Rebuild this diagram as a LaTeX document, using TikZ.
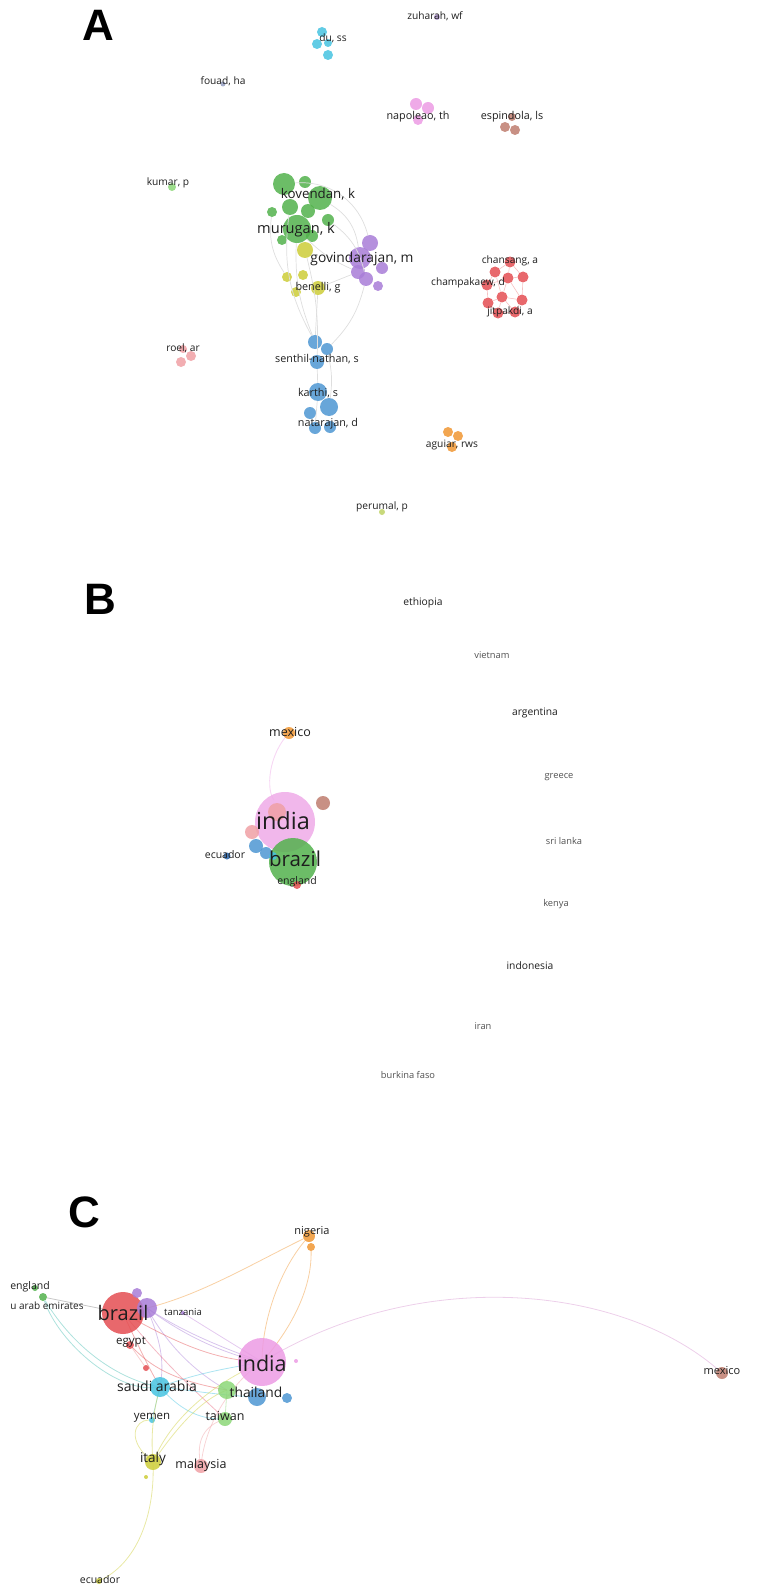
\documentclass[tikz,border=0pt]{standalone}
\usepackage{fontspec}
\setmainfont{Open Sans}
\newfontfamily\letterfont{Liberation Sans}
\definecolor{cred}{RGB}{228,78,82}
\definecolor{cgreen}{RGB}{82,178,76}
\definecolor{cblue}{RGB}{78,150,210}
\definecolor{cyellow}{RGB}{205,205,55}
\definecolor{cpurple}{RGB}{168,125,215}
\definecolor{ccyan}{RGB}{70,195,225}
\definecolor{corange}{RGB}{240,150,50}
\definecolor{cbrown}{RGB}{190,125,110}
\definecolor{cpink}{RGB}{236,155,228}
\definecolor{clpink}{RGB}{240,160,165}
\definecolor{clgreen}{RGB}{140,215,120}
\definecolor{cdblue}{RGB}{40,100,170}
\definecolor{cgrayblue}{RGB}{150,160,195}
\definecolor{cgrayvio}{RGB}{175,150,205}
\definecolor{colive}{RGB}{190,210,100}
\definecolor{txt}{RGB}{30,30,30}
\definecolor{txtl}{RGB}{80,80,80}
\definecolor{edgec}{RGB}{222,222,222}
\newcommand\fsz[1]{\fontsize{#1}{#1}\selectfont}
\newcommand\bubble[5]{\node[bub, fill=#2, minimum size=#5*2pt] (#1) at (#3,#4) {};}
\tikzset{
  bub/.style={circle, inner sep=0pt, draw=none, fill opacity=0.85},
  lbl/.style={inner sep=0pt, text=txt},
  lbll/.style={inner sep=0pt, text=txtl},
  letter/.style={inner sep=0pt, font=\letterfont\bfseries\fsz{44}, text=black},
  aedge/.style={draw=edgec, line width=0.7pt},
  redge/.style={draw=cred!35, line width=0.6pt},
  cedge/.style={line width=0.8pt, draw opacity=0.45},
}
\begin{document}
\begin{tikzpicture}[x=1pt, y=-1pt]
\useasboundingbox (0,0) rectangle (781,1586);
% ================= Panel A =================
\node[letter] (LA) at (98,25) {A};
\bubble{du1}{ccyan}{322}{32}{5}
\bubble{du2}{ccyan}{317}{44}{5}
\bubble{du3}{ccyan}{328}{43}{4}
\bubble{du4}{ccyan}{328}{55}{5}
\bubble{np1}{cpink}{416}{104}{6}
\bubble{np2}{cpink}{428}{108}{6}
\bubble{np3}{cpink}{418}{120}{5}
\bubble{es1}{cbrown}{512}{117}{4}
\bubble{es2}{cbrown}{505}{127}{5}
\bubble{es3}{cbrown}{515}{130}{5}
\bubble{fo}{cgrayblue}{223}{84}{2.5}
\bubble{zu}{cgrayvio}{437}{17}{3}
\bubble{ku}{clgreen}{172}{187}{4}
\bubble{pe}{colive}{382}{512}{3}
\bubble{g1}{cgreen}{284}{184}{11}
\bubble{g2}{cgreen}{305}{182}{6}
\bubble{g3}{cgreen}{320}{198}{12}
\bubble{g4}{cgreen}{290}{207}{8}
\bubble{g5}{cgreen}{308}{211}{7}
\bubble{g6}{cgreen}{272}{212}{5}
\bubble{g7}{cgreen}{328}{220}{6}
\bubble{g8}{cgreen}{297}{229}{14}
\bubble{g9}{cgreen}{282}{240}{5}
\bubble{g10}{cgreen}{312}{236}{6}
\bubble{y1}{cyellow}{305}{250}{8}
\bubble{y2}{cyellow}{287}{277}{5}
\bubble{y3}{cyellow}{303}{275}{5}
\bubble{y4}{cyellow}{318}{288}{7}
\bubble{y5}{cyellow}{296}{292}{5}
\bubble{p1}{cpurple}{370}{243}{8}
\bubble{p2}{cpurple}{360}{258}{11}
\bubble{p6}{cpurple}{358}{272}{7}
\bubble{p3}{cpurple}{366}{279}{7}
\bubble{p4}{cpurple}{382}{268}{6}
\bubble{p5}{cpurple}{378}{286}{5}
\bubble{r1}{cred}{510}{262}{5.5}
\bubble{r2}{cred}{495}{272}{5.5}
\bubble{r3}{cred}{508}{278}{5.5}
\bubble{r4}{cred}{523}{277}{5.5}
\bubble{r5}{cred}{487}{285}{5.5}
\bubble{r6}{cred}{502}{297}{5.5}
\bubble{r7}{cred}{522}{300}{5.5}
\bubble{r8}{cred}{488}{303}{5.5}
\bubble{r9}{cred}{498}{313}{5.5}
\bubble{r10}{cred}{515}{312}{5.5}
\bubble{rl1}{clpink}{183}{349}{4}
\bubble{rl2}{clpink}{191}{356}{5}
\bubble{rl3}{clpink}{181}{362}{5}
\bubble{b1}{cblue}{315}{342}{7}
\bubble{b2}{cblue}{327}{349}{6}
\bubble{b3}{cblue}{317}{362}{7}
\bubble{b4}{cblue}{318}{392}{9}
\bubble{b5}{cblue}{329}{407}{9}
\bubble{b6}{cblue}{310}{413}{6}
\bubble{b7}{cblue}{315}{428}{6}
\bubble{b8}{cblue}{330}{427}{6}
\bubble{o1}{corange}{448}{432}{5}
\bubble{o2}{corange}{458}{436}{5}
\bubble{o3}{corange}{452}{447}{5}
\draw[aedge] (g3) to[bend left=25] (p2);
\draw[aedge] (g1) to[bend left=40] (p1);
\draw[aedge] (g8) to[bend right=10] (p6);
\draw[aedge] (g8) to[bend right=12] (b1);
\draw[aedge] (g4) to[bend right=18] (b1);
\draw[aedge] (y4) to (b1);
\draw[aedge] (y1) to[bend left=8] (b3);
\draw[aedge] (p3) to[bend left=15] (b2);
\draw[aedge] (g6) to[bend right=20] (y2);
\draw[aedge] (g7) to[bend left=20] (p3);
\draw[aedge] (y4) to (p6);
\draw[aedge] (b3) to (b4);
\draw[aedge] (b2) to[bend left=10] (b5);
\draw[aedge] (b4) to (b7);
\draw[redge] (r1) -- (r3) -- (r5) -- (r2) -- (r1) -- (r4) -- (r3) -- (r6) -- (r8) -- (r9) -- (r10) -- (r7) -- (r4);
\draw[redge] (r2) -- (r6) -- (r10);
\draw[redge] (r3) -- (r7) -- (r6) -- (r9);
\draw[redge] (r5) -- (r8);
% labels
\node[lbl, font=\fsz{10.2}] (Lzu) at (435,16) {zuharah, wf};
\node[lbl, font=\fsz{10.2}] (Ldu) at (333,38) {du, ss};
\node[lbl, font=\fsz{10.2}] (Lfo) at (223,81) {fouad, ha};
\node[lbl, font=\fsz{10.8}] (Lnp) at (418,117) {napoleao, th};
\node[lbl, font=\fsz{10.8}] (Les) at (512,117) {espindola, ls};
\node[lbl, font=\fsz{10.2}] (Lku) at (168,183) {kumar, p};
\node[lbl, font=\fsz{13.3}] (Lkov) at (318,194) {kovendan, k};
\node[lbl, font=\fsz{14.6}] (Lmur) at (296,230) {murugan, k};
\node[lbl, font=\fsz{13.8}] (Lgov) at (362,259) {govindarajan, m};
\node[lbl, font=\fsz{10.8}] (Lben) at (318,288) {benelli, g};
\node[lbl, font=\fsz{10.2}] (Lcha) at (510,261) {chansang, a};
\node[lbl, font=\fsz{10.2}] (Lchp) at (468,283) {champakaew, d};
\node[lbl, font=\fsz{10.2}] (Ljit) at (510,312) {jitpakdi, a};
\node[lbl, font=\fsz{10.2}] (Lroe) at (183,348) {roel, ar};
\node[lbl, font=\fsz{10.8}] (Lsen) at (317,359) {senthil-nathan, s};
\node[lbl, font=\fsz{10.8}] (Lkar) at (318,393) {karthi, s};
\node[lbl, font=\fsz{10.8}] (Lnat) at (328,424) {natarajan, d};
\node[lbl, font=\fsz{10.2}] (Lagu) at (452,445) {aguiar, rws};
\node[lbl, font=\fsz{10.2}] (Lper) at (382,507) {perumal, p};
% ================= Panel B =================
\node[letter] (LB) at (100,599) {B};
\draw[draw=cpink!40, line width=0.9pt] (289,733) .. controls (268,755) and (266,790) .. (274,800);
\bubble{Bmx}{corange}{289}{733}{6}
\bubble{Bind}{cpink!85!white}{285}{822}{30}
\bubble{Bs1}{clpink}{277}{812}{9}
\bubble{Bs2}{clpink}{252}{832}{7}
\bubble{Bbro}{cbrown}{323}{803}{7}
\bubble{Bbrz}{cgreen}{293}{862}{24}
\bubble{Bbl1}{cblue}{256}{846}{7}
\bubble{Bbl2}{cblue}{266}{853}{6}
\bubble{Btl}{ccyan}{273}{856}{4}
\bubble{Bec}{cdblue}{227}{856}{3.5}
\bubble{Ben}{cred}{297}{885}{4}
\node[lbl, font=\fsz{12.5}] (LBmx) at (290,732) {mexico};
\node[lbl, font=\fsz{23.5}] (LBind) at (283,821) {india};
\node[lbl, font=\fsz{20.5}] (LBbrz) at (295,859) {brazil};
\node[lbl, font=\fsz{10.5}] (LBec) at (225,855) {ecuador};
\node[lbl, font=\fsz{10.5}] (LBen) at (297,882) {england};
\node[lbl, font=\fsz{10.3}] (LBet) at (423,603) {ethiopia};
\node[lbll, font=\fsz{9.3}] (LBvi) at (492,655) {vietnam};
\node[lbl, font=\fsz{10.3}] (LBar) at (535,713) {argentina};
\node[lbll, font=\fsz{9.3}] (LBgr) at (559,777) {greece};
\node[lbll, font=\fsz{9.3}] (LBsl) at (564,841) {sri lanka};
\node[lbll, font=\fsz{9.3}] (LBke) at (556,904) {kenya};
\node[lbl, font=\fsz{10.3}] (LBid) at (530,966) {indonesia};
\node[lbll, font=\fsz{9.3}] (LBir) at (483,1026) {iran};
\node[lbll, font=\fsz{9.3}] (LBbf) at (408,1075) {burkina faso};
% ================= Panel C =================
\node[letter] (LC) at (84,1212) {C};
\bubble{Cng1}{corange}{309}{1236}{6}
\bubble{Cng2}{corange}{311}{1247}{4}
\bubble{Cen1}{cgreen}{35}{1288}{3}
\bubble{Cen2}{cgreen}{43}{1297}{4}
\bubble{Ctz}{cpurple}{183}{1313}{2}
\bubble{Ceg}{cred}{130}{1345}{4}
\bubble{Crs}{cred}{146}{1368}{3}
\bubble{Cpd}{cpink}{296}{1361}{2}
\bubble{Cmx}{cbrown}{722}{1373}{6}
\bubble{Cye}{ccyan}{152}{1420}{3}
\bubble{Cid}{cyellow}{146}{1477}{2}
\bubble{Cec}{cyellow}{99}{1581}{3}
\coordinate (Cbrzc) at (123,1313);
\coordinate (Cindc) at (262,1362);
\coordinate (Csac) at (160,1387);
\coordinate (Cth1c) at (227,1390);
\coordinate (Cth2c) at (257,1397);
\coordinate (Ctwc) at (225,1419);
\coordinate (Citc) at (153,1462);
\coordinate (Cmlc) at (201,1466);
\coordinate (Cpu2c) at (147,1308);
% edges
\draw[cedge, draw=ccyan!70!cgreen] (Cen2) .. controls (75,1350) and (120,1380) .. (Csac);
\draw[cedge, draw=ccyan!70!cgreen] (Cen2) .. controls (60,1345) and (120,1395) .. (Csac);
\draw[cedge, draw=gray] (Cen2) -- (Cbrzc);
\draw[cedge, draw=corange] (Cng1) .. controls (250,1265) and (200,1295) .. (Cpu2c);
\draw[cedge, draw=corange] (Cng1) .. controls (280,1270) and (262,1320) .. (Cindc);
\draw[cedge, draw=corange] (Cng2) .. controls (312,1290) and (290,1330) .. (Cindc);
\draw[cedge, draw=cpink!80!gray] (Cindc) .. controls (420,1265) and (620,1285) .. (Cmx);
\draw[cedge, draw=cpurple] (Cpu2c) .. controls (190,1340) and (230,1355) .. (Cindc);
\draw[cedge, draw=cpurple] (Cpu2c) .. controls (180,1330) and (215,1345) .. (Cindc);
\draw[cedge, draw=cpurple] (Cpu2c) .. controls (170,1350) and (200,1375) .. (Cth1c);
\draw[cedge, draw=cpurple] (Cpu2c) .. controls (160,1340) and (165,1360) .. (Csac);
\draw[cedge, draw=cpurple!60!cpink] (Ctz) .. controls (210,1330) and (235,1345) .. (Cindc);
\draw[cedge, draw=cred] (Cbrzc) .. controls (140,1350) and (150,1370) .. (Csac);
\draw[cedge, draw=cred] (Cbrzc) .. controls (180,1345) and (215,1360) .. (Cindc);
\draw[cedge, draw=cred] (Ceg) .. controls (150,1365) and (170,1380) .. (Cth1c);
\draw[cedge, draw=cred!70!cpink] (Cbrzc) .. controls (170,1370) and (200,1395) .. (Ctwc);
\draw[cedge, draw=ccyan] (Csac) .. controls (200,1372) and (230,1368) .. (Cindc);
\draw[cedge, draw=ccyan] (Csac) .. controls (190,1390) and (215,1395) .. (Cth2c);
\draw[cedge, draw=ccyan] (Csac) .. controls (180,1410) and (200,1420) .. (Ctwc);
\draw[cedge, draw=ccyan] (Cye) -- (Csac);
\draw[cedge, draw=cyellow] (Citc) .. controls (170,1420) and (210,1385) .. (Cindc);
\draw[cedge, draw=cyellow] (Citc) .. controls (175,1430) and (200,1400) .. (Cth1c);
\draw[cedge, draw=cyellow] (Citc) .. controls (150,1430) and (155,1405) .. (Csac);
\draw[cedge, draw=cyellow] (Citc) .. controls (155,1510) and (140,1560) .. (Cec);
\draw[cedge, draw=cyellow] (Citc) .. controls (125,1440) and (135,1420) .. (Cye);
\draw[cedge, draw=clpink] (Cmlc) .. controls (195,1440) and (205,1425) .. (Ctwc);
\draw[cedge, draw=clpink] (Cmlc) .. controls (205,1420) and (235,1380) .. (Cindc);
\draw[cedge, draw=clgreen] (Ctwc) -- (Cth1c);
\draw[cedge, draw=cred!60] (Crs) -- (Ceg);
\bubble{Cbrz}{cred}{123}{1313}{21}
\bubble{Cpu1}{cpurple}{137}{1293}{5}
\bubble{Cpu2}{cpurple}{147}{1308}{10}
\bubble{Cind}{cpink}{262}{1362}{24}
\bubble{Csa}{ccyan}{160}{1387}{10}
\bubble{Cth1}{clgreen}{227}{1390}{9}
\bubble{Cth2}{cblue}{257}{1397}{9}
\bubble{Cth3}{cblue}{287}{1398}{5}
\bubble{Ctw}{clgreen}{225}{1419}{7}
\bubble{Cit}{cyellow}{153}{1462}{8}
\bubble{Cml}{clpink}{201}{1466}{7}
% labels
\node[lbl, font=\fsz{11}] (LCng) at (312,1232) {nigeria};
\node[lbl, font=\fsz{10.5}] (LCen) at (30,1287) {england};
\node[lbl, font=\fsz{10}] (LCua) at (47,1306) {u arab emirates};
\node[lbl, font=\fsz{20}] (LCbrz) at (123,1313) {brazil};
\node[lbl, font=\fsz{9.5}] (LCtz) at (183,1312) {tanzania};
\node[lbl, font=\fsz{11.5}] (LCeg) at (131,1342) {egypt};
\node[lbl, font=\fsz{21.5}] (LCind) at (262,1363) {india};
\node[lbl, font=\fsz{11}] (LCmx) at (722,1371) {mexico};
\node[lbl, font=\fsz{14}] (LCsa) at (157,1386) {saudi arabia};
\node[lbl, font=\fsz{13.8}] (LCth) at (256,1392) {thailand};
\node[lbl, font=\fsz{11.5}] (LCye) at (152,1418) {yemen};
\node[lbl, font=\fsz{12.5}] (LCtw) at (225,1416) {taiwan};
\node[lbl, font=\fsz{13.5}] (LCit) at (153,1459) {italy};
\node[lbl, font=\fsz{12.5}] (LCml) at (201,1465) {malaysia};
\node[lbl, font=\fsz{10.5}] (LCec) at (100,1580) {ecuador};
\end{tikzpicture}
\end{document}
